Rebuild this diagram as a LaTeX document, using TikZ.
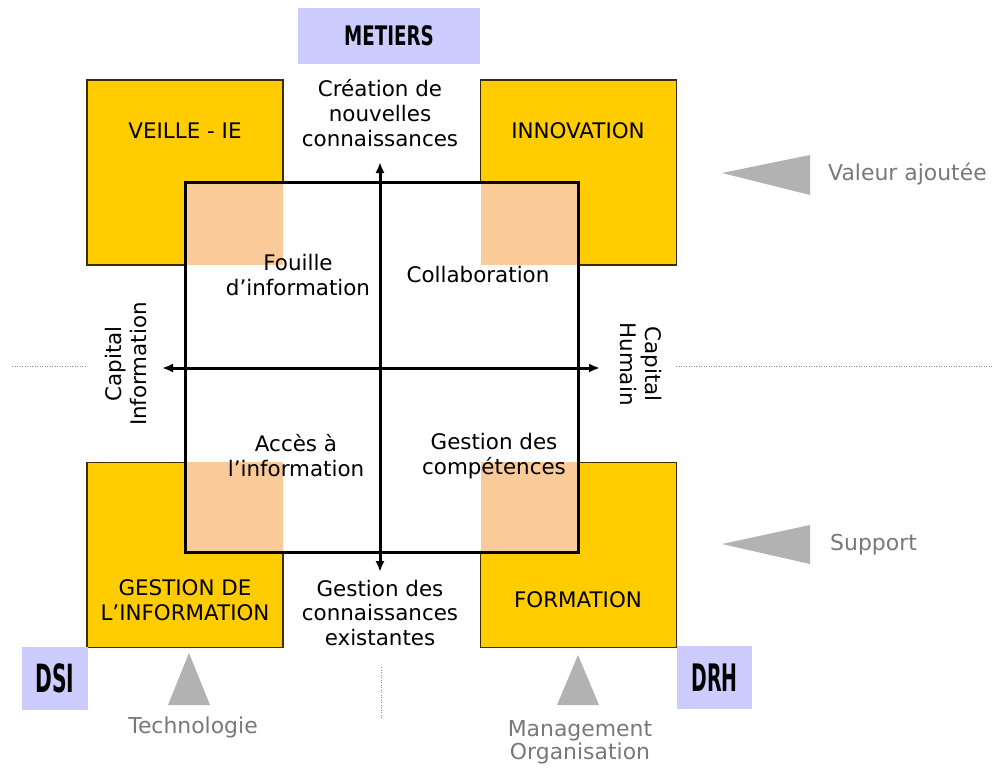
\documentclass[tikz,border=0pt]{standalone}
\usepackage{fontspec}
\setmainfont{DejaVu Sans}
\usetikzlibrary{arrows.meta}
\definecolor{yel}{RGB}{255,204,0}
\definecolor{ybrd}{RGB}{60,45,10}
\definecolor{peach}{RGB}{250,202,152}
\definecolor{lav}{RGB}{204,204,255}
\definecolor{tri}{RGB}{178,178,178}
\definecolor{gtxt}{RGB}{120,120,120}
\definecolor{dotc}{RGB}{140,140,140}
\begin{document}
\begin{tikzpicture}[x=1bp,y=-1bp,
  ybox/.style={fill=yel,draw=ybrd,line width=1.8bp,inner sep=0,minimum width=196bp,minimum height=185bp},
  lbl/.style={font=\fontsize{21.5}{25}\selectfont,align=center,inner sep=0},
  glbl/.style={font=\fontsize{22}{23}\selectfont,align=center,inner sep=0,text=gtxt},
  tag/.style={fill=lav,inner sep=0},
  axis/.style={line width=3bp,{Latex[length=11bp,width=9bp]}-{Latex[length=11bp,width=9bp]}},
  dotline/.style={dotc,line width=1bp,dash pattern=on 1bp off 1.5bp},
  gtri/.style={fill=tri}]
\useasboundingbox (0,0) rectangle (994,773);
% yellow boxes
\node[ybox] (veille) at (185,172.5) {};
\node[ybox] (innov) at (578.5,172.5) {};
\node[ybox] (gestinfo) at (185,555) {};
\node[ybox] (form) at (578.5,555) {};
% inner square
\fill[white] (186,183) rectangle (578,552);
\fill[peach] (186,183) rectangle (283,265);
\fill[peach] (481,183) rectangle (578,265);
\fill[peach] (186,462) rectangle (283,552);
\fill[peach] (481,462) rectangle (578,552);
\node[draw=black,line width=3bp,inner sep=0,minimum width=392bp,minimum height=369bp] (inner) at (382,367.5) {};
% axes
\coordinate (atop) at (380,162);
\coordinate (abot) at (380,572);
\coordinate (alft) at (162,368);
\coordinate (argt) at (600,368);
\draw[axis] (abot) -- (atop);
\draw[axis] (alft) -- (argt);
% dotted lines
\coordinate (dl1) at (12,366);
\coordinate (dl2) at (86,366);
\coordinate (dr1) at (676,366);
\coordinate (dr2) at (994,366);
\coordinate (dv1) at (381,667);
\coordinate (dv2) at (381,718);
\draw[dotline] (dl1) -- (dl2);
\draw[dotline] (dr1) -- (dr2);
\draw[dotline] (dv1) -- (dv2);
% tags
\node[tag,minimum width=182bp,minimum height=55bp] (metiers) at (389,36)
  {\fontsize{27}{27}\selectfont\scalebox{0.68}[1]{\bfseries METIERS}};
\node[tag,minimum width=66bp,minimum height=63bp] (dsi) at (55,678.5)
  {\fontsize{39}{39}\selectfont\scalebox{0.52}[1]{\bfseries DSI}};
\node[tag,minimum width=75bp,minimum height=63bp] (drh) at (714.5,677.5)
  {\fontsize{38}{38}\selectfont\scalebox{0.5}[1]{\bfseries DRH}};
% box labels
\node[lbl] (tveille) at (185,131) {VEILLE - IE};
\node[lbl] (tinnov) at (578,131) {INNOVATION};
\node[lbl] (tgest) at (185,600) {GESTION DE\\L’INFORMATION};
\node[lbl] (tform) at (578,600) {FORMATION};
% quadrant labels
\node[lbl] (tcrea) at (380,113) {Création de\\nouvelles\\connaissances};
\node[lbl] (tfouil) at (298,275) {Fouille\\d’information};
\node[lbl] (tcollab) at (478,275) {Collaboration};
\node[lbl] (tacces) at (296,456) {Accès à\\l’information};
\node[lbl] (tcomp) at (494,456) {Gestion des\\compétences};
\node[lbl] (tgcon) at (380,613) {Gestion des\\connaissances\\existantes};
\node[lbl,rotate=90] (tcapi) at (126,364) {Capital\\Information};
\node[lbl,rotate=-90] (tcaph) at (641,364) {Capital\\Humain};
% grey triangles and labels
\fill[gtri] (722,173) -- (810,155) -- (810,195) -- cycle;
\fill[gtri] (722,544) -- (810,525) -- (810,564) -- cycle;
\fill[gtri] (189,653) -- (210,705) -- (168,705) -- cycle;
\fill[gtri] (578,655) -- (599,705) -- (557,705) -- cycle;
\node[glbl,anchor=west] (tval) at (828,174) {Valeur ajoutée};
\node[glbl,anchor=west] (tsup) at (830,545) {Support};
\node[glbl] (ttech) at (193,727) {Technologie};
\node[glbl] (tman) at (580,742) {Management\\Organisation};
\end{tikzpicture}
\end{document}
